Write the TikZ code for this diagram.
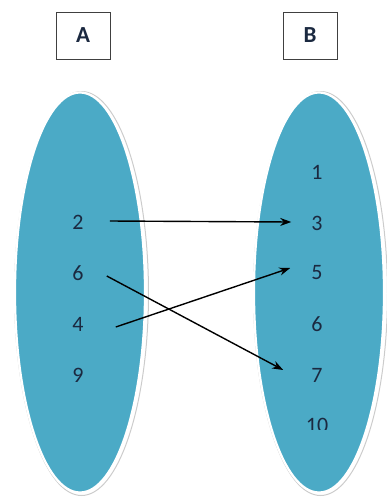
\documentclass[tikz,border=0pt]{standalone}
\usepackage{fontspec}
\setmainfont{Carlito}
\usetikzlibrary{arrows.meta,shapes.geometric}
\definecolor{setfill}{HTML}{4BAAC6}
\definecolor{txt}{HTML}{1B2940}
\tikzset{
  setshape/.style={ellipse, minimum width=130pt, minimum height=400pt, fill=setfill, draw=white, line width=2.2pt, inner sep=0pt},
  setshadow/.style={ellipse, minimum width=134pt, minimum height=404pt, draw=gray!40, line width=1pt, inner sep=0pt},
  labelbox/.style={draw=black!75, line width=0.9pt, fill=white, minimum width=54pt, minimum height=47pt, inner sep=0pt, text=txt, font=\fontsize{23}{23}\selectfont\bfseries},
  num/.style={inner sep=0pt, text=txt, font=\fontsize{22}{22}\selectfont},
  arr/.style={-{Stealth[length=11pt,width=8pt]}, line width=1.4pt, black}
}
\begin{document}
\begin{tikzpicture}[x=1pt,y=-1pt]
\useasboundingbox (0,0) rectangle (387,499);
% boxes
\node[labelbox] (boxA) at (83,35.5) {A};
\node[labelbox] (boxB) at (310,35.5) {B};
% ellipses
\node[setshadow] (shA) at (81.5,293.5) {};
\node[setshape] (setA) at (80,292.5) {};
\node[setshadow] (shB) at (320.5,293.5) {};
\node[setshape] (setB) at (319,292.5) {};
% elements of A
\node[num] (a2) at (78,222) {2};
\node[num] (a6) at (78,273) {6};
\node[num] (a4) at (78,324) {4};
\node[num] (a9) at (78,375) {9};
% elements of B
\node[num] (b1) at (317,172) {1};
\node[num] (b3) at (317,223) {3};
\node[num] (b5) at (317,273) {5};
\node[num] (b6) at (317,324) {6};
\node[num] (b7) at (317,375) {7};
\begin{scope}
\clip (250,400) rectangle (387,429);
\node[num] (b10) at (317,425) {10};
\end{scope}
% arrows
\draw[arr] ([shift={(26,-1)}]a2.east) -- ([shift={(-20,-1)}]b3.west);
\draw[arr] ([shift={(23,3)}]a6.east) -- ([shift={(-28,-5)}]b7.west);
\draw[arr] ([shift={(32,3)}]a4.east) -- ([shift={(-21,-5)}]b5.west);
\end{tikzpicture}
\end{document}
